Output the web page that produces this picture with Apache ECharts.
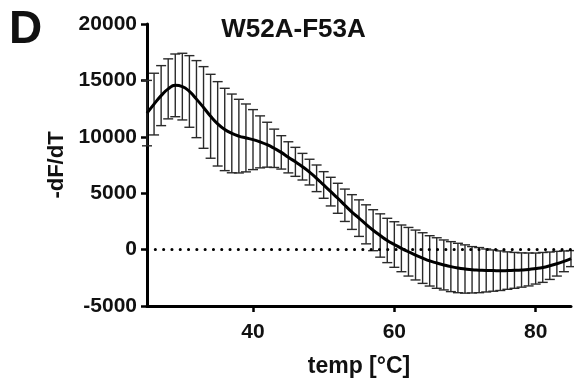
<!DOCTYPE html>
<html>
<head>
<meta charset="utf-8">
<script src="https://cdn.jsdelivr.net/npm/echarts@6/dist/echarts.min.js"></script>
<style>
html,body{margin:0;padding:0;background:#fff;}
#chart{width:574px;height:378px;}
</style>
</head>
<body>
<div id="chart"></div>
<script>
// Temperature (°C)
const temps = [25,26,27,28,29,30,31,32,33,34,35,36,37,38,39,40,41,42,43,44,45,46,47,48,49,50,51,52,53,54,55,56,57,58,59,60,61,62,63,64,65,66,67,68,69,70,71,72,73,74,75,76,77,78,79,80,81,82,83,84,85];
// Mean -dF/dT
const meanVals = [12100,12900,13650,14250,14560,14450,14020,13340,12600,11820,11150,10650,10300,10060,9900,9750,9550,9300,8980,8620,8180,7780,7350,6870,6320,5730,5140,4550,3930,3330,2790,2240,1720,1250,810,450,110,-190,-480,-750,-1000,-1190,-1360,-1510,-1630,-1720,-1790,-1820,-1850,-1860,-1870,-1860,-1840,-1810,-1760,-1680,-1580,-1430,-1250,-1040,-800];
// Error (half-length of error bar)
const errVals = [2900,2735,2660,2660,2780,2955,3175,3415,3620,3720,3740,3650,3490,3265,3010,2660,2305,1990,1700,1480,1380,1285,1180,1140,1180,1180,1270,1330,1435,1540,1620,1730,1815,1920,1965,2020,2070,2155,2210,2245,2230,2240,2215,2215,2190,2140,2055,2000,1905,1830,1755,1660,1590,1520,1460,1375,1325,1215,1095,920,710];
const xTicks = [40,60,80];
const yMin = -5000, yMax = 20000, yStep = 5000;
const titleText = 'W52A-F53A';
const panelLabel = 'D';
const xName = 'temp [°C]';
const yName = '-dF/dT';

const FONT = '"Liberation Sans", Arial, Helvetica, sans-serif';
const chart = echarts.init(document.getElementById('chart'), null, {renderer: 'canvas'});

const meanData = temps.map((t, i) => [t, meanVals[i]]);
const errData = temps.map((t, i) => [t, meanVals[i], errVals[i]]);

const option = {
  backgroundColor: '#fff',
  animation: false,
  grid: {left: 147, right: 3, top: 24, bottom: 72, containLabel: false, outerBoundsMode: 'none'},
  xAxis: {
    type: 'value', min: 25, max: 85,
    name: xName, nameLocation: 'middle', nameGap: 49,
    nameTextStyle: {fontFamily: FONT, fontWeight: 'bold', fontSize: 23, color: '#111'},
    axisLine: {show: true, onZero: false, lineStyle: {color: '#000', width: 3}},
    axisTick: {show: true, length: 6, inside: false, customValues: xTicks, lineStyle: {color: '#000', width: 2.5}},
    axisLabel: {customValues: xTicks, margin: 16, fontFamily: FONT, fontWeight: 'bold', fontSize: 21, color: '#111',
      formatter: function (v) { return String(v); }},
    splitLine: {show: false}
  },
  yAxis: {
    type: 'value', min: yMin, max: yMax, interval: yStep,
    name: yName, nameLocation: 'middle', nameGap: 74, nameRotate: 90,
    nameTextStyle: {fontFamily: FONT, fontWeight: 'bold', fontSize: 22, color: '#111'},
    axisLine: {show: true, onZero: false, lineStyle: {color: '#000', width: 3}},
    axisTick: {show: true, length: 6, lineStyle: {color: '#000', width: 2.5}},
    axisLabel: {margin: 10, fontFamily: FONT, fontWeight: 'bold', fontSize: 21, color: '#111',
      formatter: function (v) { return String(v); }},
    splitLine: {show: false}
  },
  graphic: [
    {type: 'text', x: 293.5, y: 29.5, silent: true,
     style: {text: titleText, font: 'bold 26px ' + FONT, fill: '#111', textAlign: 'center', textVerticalAlign: 'middle'}},
    {type: 'text', x: 9, y: 30.5, silent: true,
     style: {text: panelLabel, font: 'bold 46px ' + FONT, fill: '#111', textAlign: 'left', textVerticalAlign: 'middle'}}
  ],
  series: [
    {
      type: 'custom',
      data: errData,
      clip: false,
      z: 2,
      renderItem: function (params, api) {
        const x = api.value(0), m = api.value(1), s = api.value(2);
        const top = api.coord([x, m + s]);
        const bot = api.coord([x, m - s]);
        const hw = 5;
        const st = {stroke: '#2a2a2a', lineWidth: 1.4, fill: null};
        return {
          type: 'group',
          children: [
            {type: 'line', shape: {x1: top[0], y1: top[1], x2: bot[0], y2: bot[1]}, style: st},
            {type: 'line', shape: {x1: top[0] - hw, y1: top[1], x2: top[0] + hw, y2: top[1]}, style: st},
            {type: 'line', shape: {x1: bot[0] - hw, y1: bot[1], x2: bot[0] + hw, y2: bot[1]}, style: st}
          ]
        };
      }
    },
    {
      type: 'line',
      data: meanData,
      smooth: 0.5,
      showSymbol: false,
      symbol: 'none',
      z: 3,
      lineStyle: {color: '#000', width: 3},
      markLine: {
        silent: true,
        symbol: ['none', 'none'],
        label: {show: false},
        lineStyle: {color: '#000', width: 3, type: [0.1, 8.2], cap: 'round'},
        data: [{yAxis: 0}]
      }
    }
  ]
};
chart.setOption(option);
</script>
</body>
</html>
